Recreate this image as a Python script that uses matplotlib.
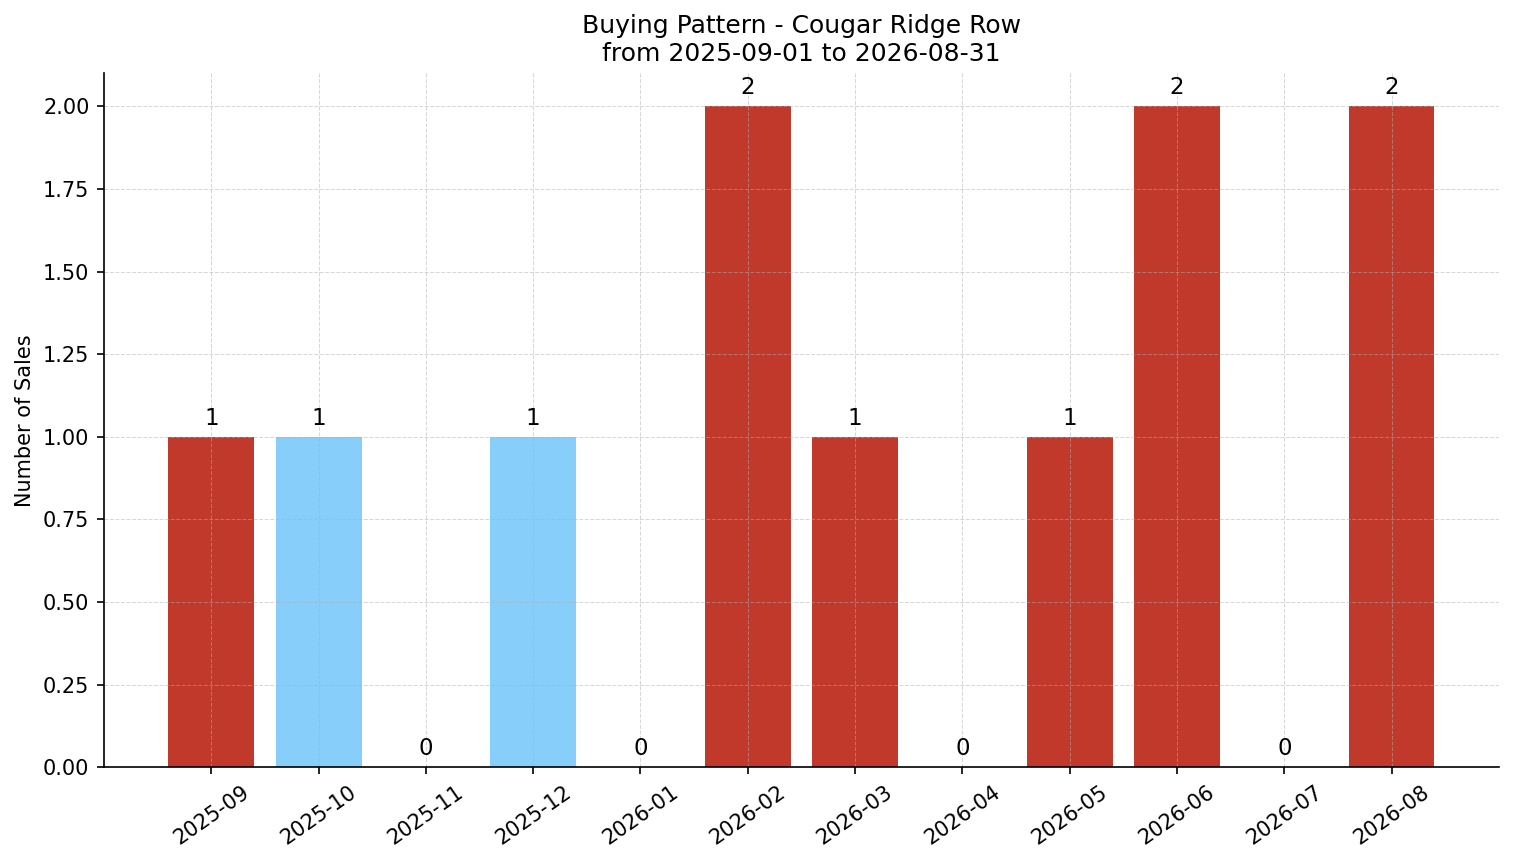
import matplotlib
matplotlib.use('Agg')
import matplotlib.pyplot as plt

months = ['2025-09', '2025-10', '2025-11', '2025-12', '2026-01', '2026-02',
          '2026-03', '2026-04', '2026-05', '2026-06', '2026-07', '2026-08']
sales = [1, 1, 0, 1, 0, 2, 1, 0, 1, 2, 0, 2]
highlight = [False, True, False, True, False, False, False, False, False, False, False, False]

red = '#c0392b'
blue = '#87cefa'
colors = [blue if h else red for h in highlight]

fig, ax = plt.subplots(figsize=(1514 / 150, 863 / 150), dpi=150)
fig.subplots_adjust(left=0.0687, right=0.990, top=0.915, bottom=0.111)

x = list(range(len(months)))
bars = ax.bar(x, sales, width=0.8, color=colors)
for xi, v in zip(x, sales):
    ax.annotate(str(v), (xi, v), xytext=(0, 3.5), textcoords='offset points',
                ha='center', va='bottom', fontsize=11)

ax.set_xticks(x)
ax.set_xticklabels(months, rotation=35)
ax.set_xlim(-1, 12)
ax.set_ylim(0, 2.1)
ax.set_ylabel('Number of Sales')
ax.set_title('Buying Pattern - Cougar Ridge Row\nfrom 2025-09-01 to 2026-08-31', fontsize=12)
ax.grid(True, linestyle='--', linewidth=0.5, alpha=0.5)
ax.spines['top'].set_visible(False)
ax.spines['right'].set_visible(False)

fig.savefig('out.png', dpi=150)
